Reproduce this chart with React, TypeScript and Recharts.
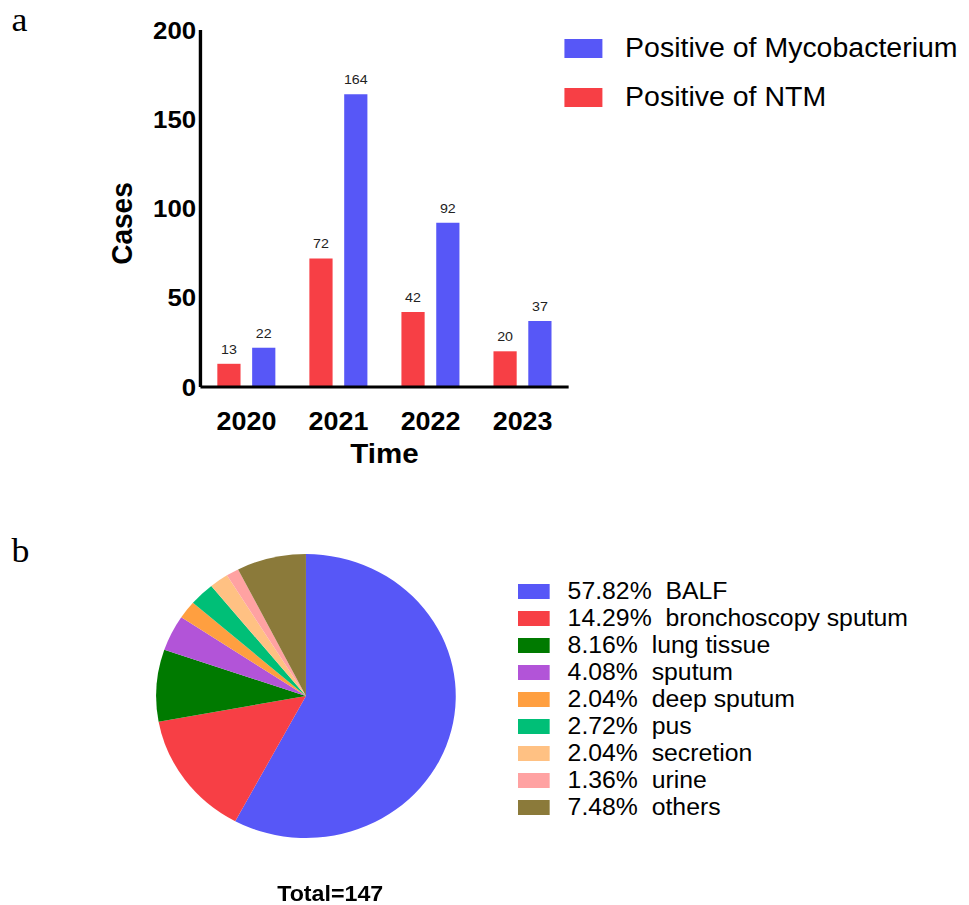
import React from 'react';
import { BarChart, Bar, XAxis, YAxis, LabelList, PieChart, Pie, Cell } from 'recharts';

// a: yearly positives
const years = ['2020', '2021', '2022', '2023'];
const ntmCases = [13, 72, 42, 20];
const mycoCases = [22, 164, 92, 37];
const yTicks = [0, 50, 100, 150, 200];

// b: specimen types of NTM positives
const specimenNames = [
  'BALF',
  'bronchoscopy sputum',
  'lung tissue',
  'sputum',
  'deep sputum',
  'pus',
  'secretion',
  'urine',
  'others',
];
const specimenCounts = [85, 21, 12, 6, 3, 4, 3, 2, 11];
const specimenColors = [
  '#5757F7',
  '#F73F45',
  '#007A00',
  '#B254D8',
  '#FF9F40',
  '#00BF77',
  '#FFC183',
  '#FFA2A2',
  '#8B7A3A',
];

const BLUE = '#5757F7';
const RED = '#F73F45';
const FONT = '"Liberation Sans", Arial, sans-serif';

const barData = years.map((year, i) => ({ year, ntm: ntmCases[i], myco: mycoCases[i] }));
const total = specimenCounts.reduce((a, b) => a + b, 0);
const pieData = specimenNames.map((name, i) => ({
  name,
  value: specimenCounts[i],
  pct: ((specimenCounts[i] / total) * 100).toFixed(2),
}));

const barLegend = [
  { label: 'Positive of Mycobacterium', color: BLUE },
  { label: 'Positive of NTM', color: RED },
];

function TimeLabel(props: any) {
  const vb = props.viewBox || { x: 190, y: 387, width: 349, height: 50 };
  return (
    <text
      x={vb.x + vb.width / 2}
      y={vb.y + 76}
      textAnchor="middle"
      fontSize={28}
      fontWeight="bold"
      fill="#000"
    >
      Time
    </text>
  );
}

function CasesLabel(props: any) {
  const vb = props.viewBox || { x: 130, y: 30, width: 60, height: 357 };
  const bx = vb.x - 4.5;
  const cy = vb.y + vb.height / 2 + 15;
  return (
    <text
      x={bx}
      y={cy}
      transform={`rotate(-90, ${bx}, ${cy})`}
      textAnchor="middle"
      fontSize={28}
      fontWeight="bold"
      fill="#000"
    >
      Cases
    </text>
  );
}

export default function App() {
  return (
    <div
      style={{
        position: 'absolute',
        left: 0,
        top: 0,
        width: 919,
        height: 905,
        transform: 'scaleX(1.055)',
        transformOrigin: '0 0',
        fontFamily: FONT,
        background: '#fff',
      }}
    >
      {/* panel letters */}
      <div style={{ position: 'absolute', left: 11, top: 3, fontFamily: '"Liberation Serif", serif', fontSize: 34, lineHeight: '34px' }}>a</div>
      <div style={{ position: 'absolute', left: 11, top: 534, fontFamily: '"Liberation Serif", serif', fontSize: 34, lineHeight: '34px' }}>b</div>

      {/* a: bar chart */}
      <div style={{ position: 'absolute', left: 0, top: 0 }}>
        <BarChart
          width={919}
          height={480}
          data={barData}
          margin={{ top: 30, right: 380, bottom: 43, left: 130 }}
          barSize={22}
          barGap={11}
        >
          <XAxis
            dataKey="year"
            height={50}
            tickLine={false}
            tickSize={0}
            tickMargin={25}
            axisLine={{ stroke: '#000', strokeWidth: 3.2 }}
            tick={{ fontSize: 25.5, fontWeight: 'bold', fill: '#000' }}
            label={<TimeLabel />}
          />
          <YAxis
            width={60}
            domain={[0, 200]}
            ticks={yTicks}
            tickLine={false}
            tickSize={0}
            tickMargin={4}
            axisLine={{ stroke: '#000', strokeWidth: 3.2 }}
            tick={{ fontSize: 24.5, fontWeight: 'bold', fill: '#000' }}
            label={<CasesLabel />}
          />
          <Bar dataKey="ntm" fill={RED} isAnimationActive={false}>
            <LabelList dataKey="ntm" position="top" offset={10} fontSize={13.5} fill="#222" />
          </Bar>
          <Bar dataKey="myco" fill={BLUE} isAnimationActive={false}>
            <LabelList dataKey="myco" position="top" offset={10} fontSize={13.5} fill="#222" />
          </Bar>
        </BarChart>
      </div>

      {/* a: legend */}
      <div style={{ position: 'absolute', left: 534.5, top: 24.25 }}>
        {barLegend.map((item) => (
          <div key={item.label} style={{ display: 'flex', alignItems: 'center', height: 48.5 }}>
            <div style={{ width: 36, height: 19, background: item.color }} />
            <div style={{ marginLeft: 22, fontSize: 27, lineHeight: '27px', color: '#000', whiteSpace: 'nowrap' }}>
              {item.label}
            </div>
          </div>
        ))}
      </div>

      {/* b: pie chart */}
      <div style={{ position: 'absolute', left: 0, top: 480 }}>
        <PieChart width={919} height={425} margin={{ top: 0, right: 0, bottom: 0, left: 0 }}>
          <Pie
            data={pieData}
            dataKey="value"
            nameKey="name"
            cx={290}
            cy={216}
            outerRadius={142}
            startAngle={90}
            endAngle={-270}
            stroke="none"
            isAnimationActive={false}
          >
            {pieData.map((entry, i) => (
              <Cell key={`cell-${i}`} fill={specimenColors[i % specimenColors.length]} />
            ))}
          </Pie>
        </PieChart>
      </div>

      {/* b: legend */}
      <div style={{ position: 'absolute', left: 491, top: 577.5 }}>
        {pieData.map((entry, i) => (
          <div key={entry.name} style={{ display: 'flex', alignItems: 'center', height: 27 }}>
            <div style={{ width: 30, height: 15, background: specimenColors[i] }} />
            <div style={{ marginLeft: 17, fontSize: 23.5, lineHeight: '23px', color: '#000', whiteSpace: 'pre' }}>
              {`${entry.pct}%  ${entry.name}`}
            </div>
          </div>
        ))}
      </div>

      <div
        style={{
          position: 'absolute',
          left: 213,
          top: 883,
          width: 200,
          textAlign: 'center',
          fontSize: 22,
          lineHeight: '22px',
          fontWeight: 'bold',
          color: '#000',
        }}
      >
        Total={total}
      </div>
    </div>
  );
}
